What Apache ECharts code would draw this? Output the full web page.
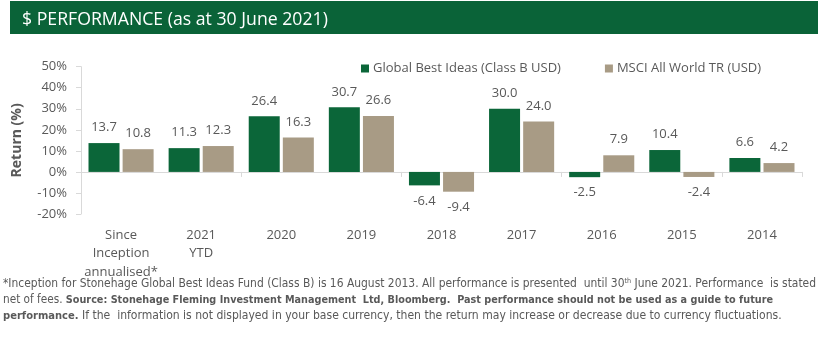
<!DOCTYPE html>
<html><head><meta charset="utf-8">
<script src="https://cdn.jsdelivr.net/npm/echarts@6/dist/echarts.min.js"></script>
<style>html,body{margin:0;padding:0;background:#fff}#c{width:828px;height:348px}</style>
</head><body><div id="c"></div>
<script>
const categories = ['Since\nInception\nannualised*', '2021\nYTD', '2020', '2019', '2018', '2017', '2016', '2015', '2014'];
const seriesNames = ['Global Best Ideas (Class B USD)', 'MSCI All World TR (USD)'];
const fundValues = [13.7, 11.3, 26.4, 30.7, -6.4, 30.0, -2.5, 10.4, 6.6];
const indexValues = [10.8, 12.3, 16.3, 26.6, -9.4, 24.0, 7.9, -2.4, 4.2];
const yTicks = { min: -20, max: 50, interval: 10 };
const titleText = '$ PERFORMANCE (as at 30 June 2021)';
const footLine1 = ['*Inception for Stonehage Global Best Ideas Fund (Class B) is 16 August 2013. All performance is presented  until 30', 'th', ' June 2021. Performance  is stated'];
const footLine2 = ['net of fees. ', 'Source: Stonehage Fleming Investment Management  Ltd, Bloomberg.  Past performance should not be used as a guide to future'];
const footLine3 = ['performance.', ' If the  information is not displayed in your base currency, then the return may increase or decrease due to currency fluctuations.'];

const GREEN = '#0b6639', TAN = '#a89b85', GREY = '#595959';
const CF = "'Open Sans', sans-serif";
const NF = "'Liberation Sans Narrow', 'DejaVu Sans Condensed', sans-serif";

const cv = document.createElement('canvas').getContext('2d');
function w(txt, size, weight, fam){ cv.font = (weight||'normal') + ' ' + size + 'px ' + fam; return cv.measureText(txt).width; }
// fit footer sizes to the reference line widths (bold slightly reduced)
const BK = 0.92;
const fs1 = 10 * 814 / (w(footLine1[0] + footLine1[2], 10, 'normal', NF) + w(footLine1[1], 6.2, 'normal', NF));
const fs2 = 10 * 770 / (w(footLine2[0], 10, 'normal', NF) + w(footLine2[1], 10 * BK, 'bold', NF));
const fs3 = 10 * 779 / (w(footLine3[1], 10, 'normal', NF) + w(footLine3[0], 10 * BK, 'bold', NF));
const ts = 20 * 306 / w(titleText, 20, 'normal', CF);

function mkItems(vals){
  return vals.map(v => ({ value: v, label: { position: v < 0 ? 'bottom' : 'top' } }));
}
const chart = echarts.init(document.getElementById('c'), null, {renderer:'canvas'});
const barLabel = { show: true, distance: 9, color: GREY, fontSize: 13, fontFamily: CF, formatter: p => p.value.toFixed(1) };
function ns(s){ return { fontSize: s, fontFamily: NF, fill: GREY }; }
function bs(s){ return { fontSize: s * BK, fontFamily: NF, fill: GREY, fontWeight: 'bold' }; }
chart.setOption({
  animation: false,
  grid: { left: 81, right: 26, top: 66.7, bottom: 134 },
  legend: {
    data: seriesNames, top: 57, left: 356, itemWidth: 8, itemHeight: 8, itemGap: 44, icon: 'rect',
    textStyle: { color: GREY, fontSize: 13, fontFamily: CF, padding: [0,0,0,-1] }
  },
  xAxis: [
    { type: 'category', data: categories, axisLine: { onZero: true, lineStyle: { color: '#d9d9d9' } },
      axisTick: { show: true, length: 5, lineStyle: { color: '#d9d9d9' } }, axisLabel: { show: false } },
    { type: 'category', data: categories, position: 'bottom', axisLine: { show: false, onZero: false }, axisTick: { show: false },
      axisLabel: { margin: 12, color: GREY, fontSize: 13, fontFamily: CF, lineHeight: 18.5, interval: 0 } }
  ],
  yAxis: {
    type: 'value', min: yTicks.min, max: yTicks.max, interval: yTicks.interval,
    name: 'Return (%)', nameLocation: 'middle', nameGap: 57, nameRotate: 90,
    nameTextStyle: { color: GREY, fontWeight: 'bold', fontSize: 14, fontFamily: CF },
    axisLine: { show: true, lineStyle: { color: '#d9d9d9' } },
    axisTick: { show: true, length: 5, lineStyle: { color: '#d9d9d9' } },
    splitLine: { show: false },
    axisLabel: { formatter: '{value}%', color: GREY, fontSize: 13, fontFamily: CF, margin: 14 }
  },
  series: [
    { name: seriesNames[0], type: 'bar', xAxisIndex: 0, data: mkItems(fundValues), barWidth: 31, barGap: '10%', itemStyle: { color: GREEN }, label: barLabel },
    { name: seriesNames[1], type: 'bar', xAxisIndex: 0, data: mkItems(indexValues), barWidth: 31, barGap: '10%', itemStyle: { color: TAN }, label: barLabel }
  ],
  graphic: [
    { type: 'rect', shape: { x: 10, y: 1, width: 808, height: 33 }, style: { fill: '#0a6338' }, z: 0 },
    { type: 'text', x: 22, y: 19.5, style: { text: titleText, fill: '#fff', fontSize: ts, fontFamily: CF, verticalAlign: 'middle' } },
    { type: 'text', x: 3, y: 284, style: {
        text: '{n|' + footLine1[0] + '}{s|' + footLine1[1] + '}{n|' + footLine1[2] + '}',
        verticalAlign: 'middle',
        rich: { n: ns(fs1), s: { fontSize: fs1*0.6, fontFamily: NF, fill: GREY, verticalAlign: 'top', padding:[0,0,fs1*0.45,0] } } } },
    { type: 'text', x: 3, y: 300, style: {
        text: '{n|' + footLine2[0] + '}{b|' + footLine2[1] + '}',
        verticalAlign: 'middle',
        rich: { n: ns(fs2), b: bs(fs2) } } },
    { type: 'text', x: 3, y: 316, style: {
        text: '{b|' + footLine3[0] + '}{n|' + footLine3[1] + '}',
        verticalAlign: 'middle',
        rich: { n: ns(fs3), b: bs(fs3) } } }
  ]
});
</script></body></html>
